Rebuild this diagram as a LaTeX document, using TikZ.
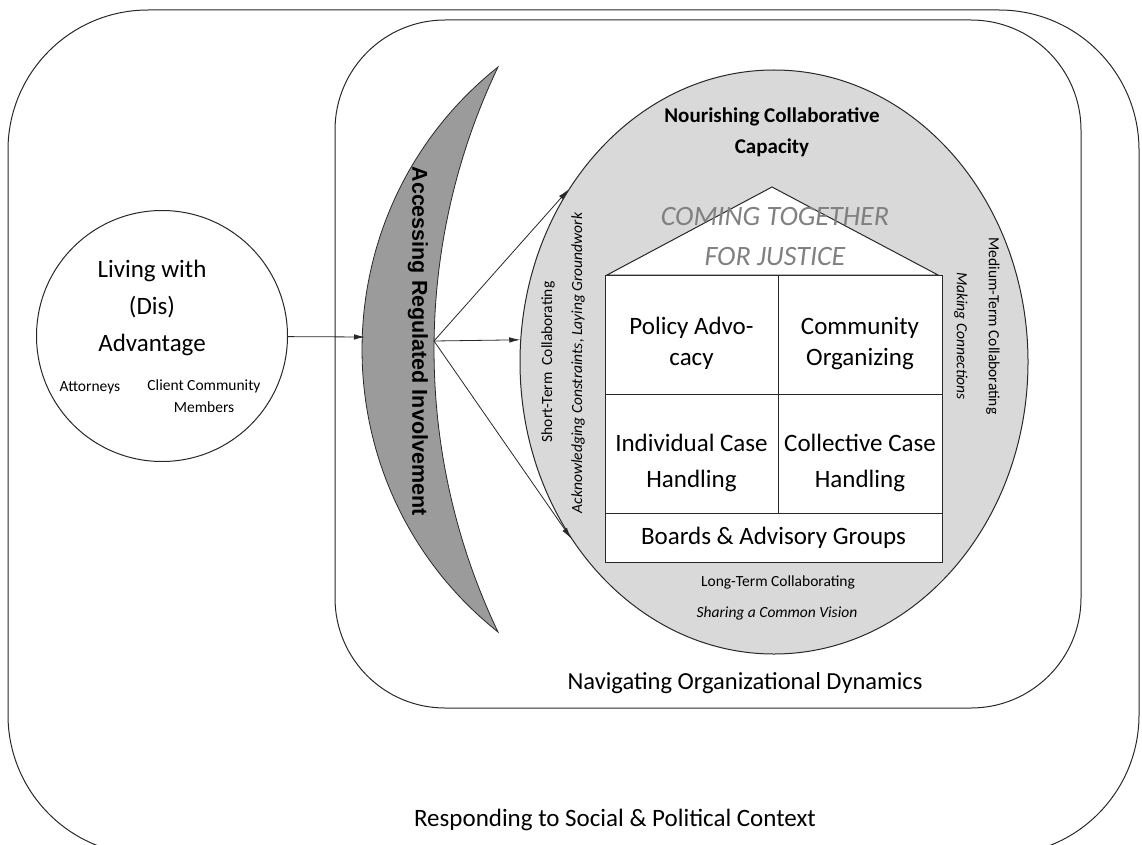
\documentclass[tikz,border=0pt]{standalone}
\usepackage{fontspec}
\setmainfont{Carlito}
\newfontfamily\arialfont{Liberation Sans}
\usepackage{xcolor}
\usepackage{tikz}
\usetikzlibrary{shapes.geometric, arrows.meta, positioning}
\definecolor{fillgray}{RGB}{217,217,217}
\definecolor{bandgray}{RGB}{155,155,155}
\definecolor{linegray}{RGB}{40,40,40}
\definecolor{titlegray}{RGB}{128,128,128}
\newcommand{\setfs}[2]{\fontsize{#1}{#2}\selectfont}
\tikzset{
    region/.style={rectangle, draw=linegray, line width=1pt, inner sep=0pt, outer sep=0pt},
    cell/.style={rectangle, draw=linegray, line width=1pt, fill=white, minimum width=173pt, minimum height=119pt, inner sep=0pt, outer sep=0pt},
    celltxt/.style={inner sep=0pt, align=center, yshift=-9pt, font=\setfs{25}{31}},
    roof/.style={draw=linegray, line width=1pt, fill=white, line join=miter},
    arrow/.style={-{Latex[length=11pt,width=5.5pt]}, line width=0.8pt, linegray}
}

\begin{document}
\begin{tikzpicture}[
    x=1pt, y=-1pt,
    txt/.style={inner sep=0pt, align=center},
    small/.style={txt, font=\setfs{15.5}{22}},
    smallit/.style={txt, font=\itshape\setfs{15.5}{22}}
]
    \clip (0,0) rectangle (1142,845);

    % Social & political context
    \node[region, rounded corners=140pt, minimum width=1131pt, minimum height=845pt] (context) at (573.5,432.5) {};
    \node[txt, font=\setfs{25}{28}] (contextlbl) at (615,820) {Responding to Social \& Political Context};

    % Organizational dynamics
    \node[region, rounded corners=110pt, minimum width=746pt, minimum height=688pt] (org) at (708,364) {};
    \node[txt, font=\setfs{24.5}{28}] (orglbl) at (745,683) {Navigating Organizational Dynamics};

    % Living with (Dis) Advantage
    \node[circle, draw=linegray, line width=1pt, minimum size=251pt, inner sep=0pt] (living) at (162,336) {};
    \node[txt, font=\setfs{25}{37}] (livinglbl) at (152,308) {Living with\\(Dis)\\Advantage};
    \node[small] (attorneys) at (90,388) {Attorneys};
    \node[small] (clients) at (204,396) {Client Community\\Members};

    % Accessing regulated involvement
    \coordinate (crtop) at (498,67);
    \coordinate (crbot) at (498,632);
    \draw[linegray, line width=0.8pt, fill=bandgray] (crtop) .. controls (316.7,211.6) and (316.7,487.4) .. (crbot)
        .. controls (412.7,453.3) and (412.7,245.7) .. (crtop) -- cycle;
    \node[txt, rotate=-90, font=\arialfont\bfseries\setfs{21.5}{26}] (access) at (418,341) {Accessing Regulated Involvement};
    \coordinate (crin) at (365,337);
    \coordinate (crout) at (434,341);

    % Nourishing collaborative capacity
    \node[ellipse, draw=linegray, line width=1pt, fill=fillgray, minimum width=508pt, minimum height=584pt, inner sep=0pt] (nourish) at (774,362) {};
    \node[txt, font=\bfseries\setfs{21}{31}] (nourishlbl) at (772,132) {Nourishing Collaborative\\Capacity};

    % House
    \node[cell, label={[celltxt]center:Policy Advo-\\cacy}] (policy) at (691.5,334.5) {};
    \node[cell, minimum width=164pt, right=0pt of policy, label={[celltxt]center:Community\\Organizing}] (community) {};
    \node[cell, below=0pt of policy, label={[celltxt, font=\setfs{25}{36}]center:Individual Case\\Handling}] (individual) {};
    \node[cell, minimum width=164pt, below=0pt of community, label={[celltxt, font=\setfs{25}{36}]center:Collective Case\\Handling}] (collective) {};
    \node[cell, minimum width=337pt, minimum height=49pt, anchor=north west, font=\setfs{25}{31}] (boards) at (individual.south west) {Boards \& Advisory Groups};
    \coordinate (apex) at (772,187);
    \draw[roof] ([xshift=2pt]policy.north west) -- (apex) -- ([xshift=-4pt]community.north east) -- cycle;
    \node[txt, font=\itshape\setfs{28}{40}, text=titlegray] (title) at (775,237) {COMING TOGETHER\\FOR JUSTICE};

    % Collaborating stages
    \node[small, rotate=90] (short) at (548,362) {Short-Term\ \ Collaborating};
    \node[smallit, rotate=90] (acknowledge) at (578,363) {Acknowledging Constraints, Laying Groundwork};
    \node[small, rotate=-90] (medium) at (993,326) {Medium-Term Collaborating};
    \node[smallit, rotate=-90] (making) at (961,336) {Making Connections};
    \node[small] (long) at (778,582) {Long-Term Collaborating};
    \node[smallit] (sharing) at (777,613) {Sharing a Common Vision};

    % Connections
    \draw[arrow] (living) -- (crin);
    \draw[arrow] (crout) -- (nourish.140.6);
    \draw[arrow] (crout) -- (nourish.175.5);
    \draw[arrow] (crout) -- (nourish.221.5);
\end{tikzpicture}
\end{document}
